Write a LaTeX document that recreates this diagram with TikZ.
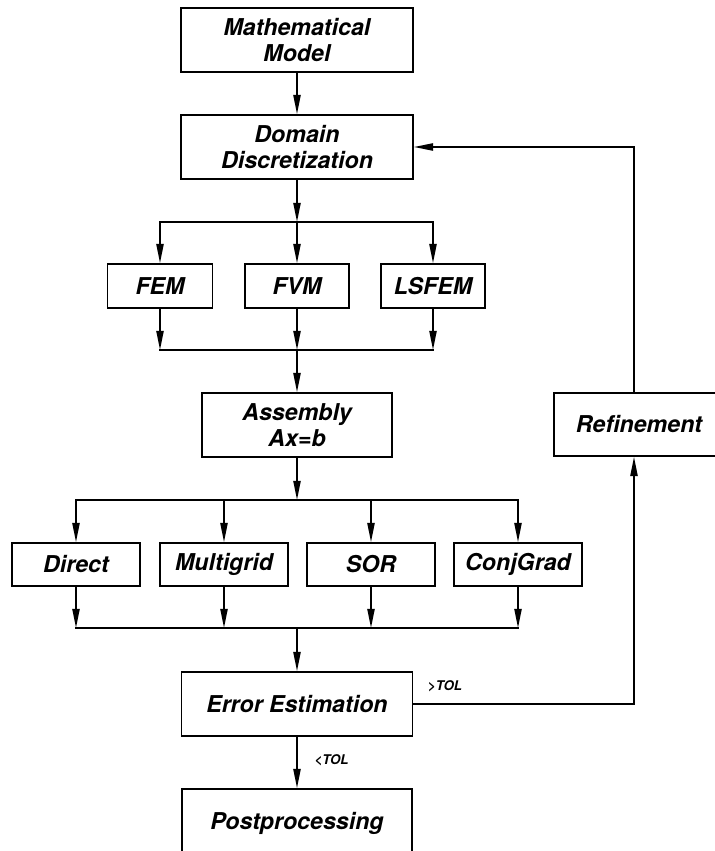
\documentclass[tikz,border=0pt]{standalone}
\usepackage{fontspec}
\setmainfont{TeX Gyre Heros}
\usetikzlibrary{arrows.meta}

\begin{document}
\begin{tikzpicture}[
    font=\fontsize{16.5}{18}\selectfont\bfseries\itshape,
    >={Triangle[length=4.8mm,width=1.8mm]},
    line width=1.2pt,
    blk/.style={draw, align=center, inner sep=2pt},
    busline/.style={line cap=rect},
    tol/.style={font=\fontsize{9.5}{11}\selectfont\bfseries\itshape}
]
    \clip (0,0) rectangle (17.875,-21.275);

    % main column
    \node[blk, minimum width=5.8cm, minimum height=1.6cm] (math) at (7.425,-1.0) {Mathematical\\Model};
    \node[blk, minimum width=5.8cm, minimum height=1.6cm] (domain) at (7.425,-3.675) {Domain\\Discretization};
    \node[blk, minimum width=4.75cm, minimum height=1.6cm] (asm) at (7.425,-10.625) {Assembly\\Ax=b};
    \node[blk, minimum width=5.78cm, minimum height=1.6cm] (err) at (7.425,-17.6) {Error Estimation};
    \node[blk, minimum width=5.75cm, minimum height=1.7cm] (post) at (7.425,-20.575) {Postprocessing};
    \node[blk, minimum width=4.25cm, minimum height=1.575cm] (refine) at (15.975,-10.6125) {Refinement};

    % discretization methods
    \node[blk, minimum width=2.625cm, minimum height=1.1cm] (fem) at (4.0,-7.15) {FEM};
    \node[blk, minimum width=2.6cm, minimum height=1.1cm] (fvm) at (7.425,-7.15) {FVM};
    \node[blk, minimum width=2.6cm, minimum height=1.1cm] (lsfem) at (10.825,-7.15) {LSFEM};

    % solvers
    \node[blk, minimum width=3.2cm, minimum height=1.075cm] (direct) at (1.9,-14.1125) {Direct};
    \node[blk, minimum width=3.2cm, minimum height=1.075cm] (mg) at (5.6,-14.1125) {Multigrid};
    \node[blk, minimum width=3.2cm, minimum height=1.075cm] (sor) at (9.275,-14.1125) {SOR};
    \node[blk, minimum width=3.2cm, minimum height=1.075cm] (cg) at (12.95,-14.1125) {ConjGrad};

    \coordinate (s1) at (7.425,-5.55);
    \coordinate (m1) at (7.425,-8.75);
    \coordinate (s2) at (7.425,-12.5);
    \coordinate (m2) at (7.425,-15.7);
    \coordinate (loop) at (15.85,-3.675);

    \draw[->] (math) -- (domain);
    \draw[->] (domain) -- (s1);
    \draw[->] (s1) -| (fem);
    \draw[->] (s1) -- (fvm);
    \draw[->] (s1) -| (lsfem);
    \draw[->] (fem) -- (fem|-m1);
    \draw[->] (fvm) -- (m1);
    \draw[->] (lsfem) -- (lsfem|-m1);
    \draw[busline] (fem|-m1) -- (lsfem|-m1);
    \draw[->] (m1) -- (asm);

    \draw[->] (asm) -- (s2);
    \draw[->] (s2) -| (direct);
    \draw[->] (s2 -| mg) -- (mg);
    \draw[->] (s2 -| sor) -- (sor);
    \draw[->] (s2) -| (cg);
    \draw[->] (direct) -- (direct|-m2);
    \draw[->] (mg) -- (mg|-m2);
    \draw[->] (sor) -- (sor|-m2);
    \draw[->] (cg) -- (cg|-m2);
    \draw[busline] (direct|-m2) -- (cg|-m2);
    \draw[->] (m2) -- (err);

    \draw[->] (err) -- node[tol, right, pos=0.45, xshift=3mm] (lt) {<TOL} (post);
    \draw[->] (err.east) -| (refine.south -| loop);
    \draw[->] (refine.north -| loop) |- (domain.east);
    \node[tol] (gt) at (11.125,-17.15) {>TOL};
\end{tikzpicture}
\end{document}
